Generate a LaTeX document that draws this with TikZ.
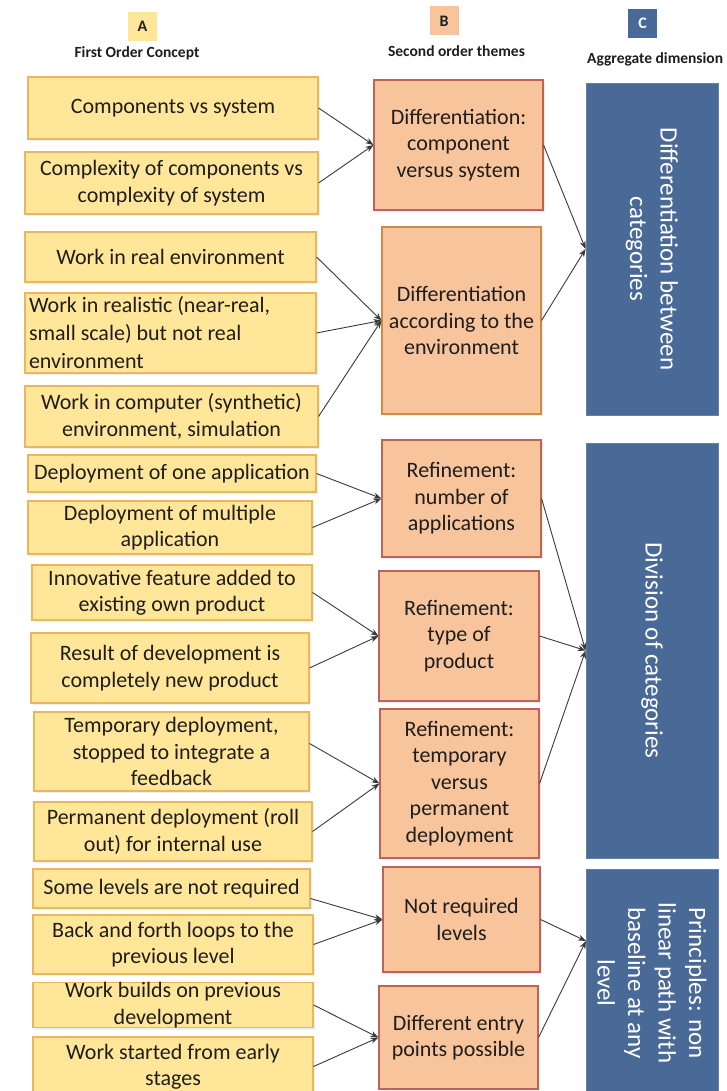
\documentclass[tikz,border=0pt]{standalone}
\usepackage{fontspec}
\setmainfont{Carlito}
\usetikzlibrary{arrows.meta,calc,shadows}
\definecolor{afill}{HTML}{FFE699}
\definecolor{aline}{HTML}{EAB65E}
\definecolor{bfill}{HTML}{F8C49C}
\definecolor{bline}{HTML}{C0615A}
\definecolor{bline2}{HTML}{CF8A45}
\definecolor{cfill}{HTML}{496A96}
\definecolor{arrowc}{HTML}{3A3A3A}
\definecolor{txt}{HTML}{1E1E1E}
\tikzset{
 box/.style={inner sep=0pt, line width=1.1pt, align=center, text=txt,
   font=\fontsize{22}{26.5}\selectfont,
   drop shadow={opacity=0.12,shadow xshift=1.5pt,shadow yshift=-2pt}},
 abox/.style={box, fill=afill, draw=aline},
 bbox/.style={box, fill=bfill, draw=bline},
 cbox/.style={inner sep=0pt, fill=cfill, draw=cfill!85!white, line width=0.8pt,
   rotate=-90, align=center, text=white, font=\fontsize{25}{30.5}\selectfont},
 conn/.style={draw=arrowc, line width=0.9pt, -{Stealth[length=8pt,width=6pt]}},
 hdr/.style={font=\bfseries\fontsize{15.5}{18}\selectfont, text=txt, inner sep=0pt},
 tag/.style={minimum size=29pt, inner sep=0pt, text=txt, font=\bfseries\fontsize{16}{18}\selectfont}
}
\begin{document}
\begin{tikzpicture}[x=1pt,y=-1pt]
\useasboundingbox (0,0) rectangle (726,1091);
\fill[white] (0,0) rectangle (726,1091);
\clip (0,0) rectangle (726,1091);

% headers
\node[tag, fill=afill] (ta) at (142.5,26.5) {A};
\node[tag, fill=bfill] (tb) at (444,21) {B};
\node[tag, fill=cfill, text=white] (tc) at (642.5,23.5) {C};
\node[hdr] (ha) at (137,53) {First Order Concept};
\node[hdr] (hb) at (456.5,51) {Second order themes};
\node[hdr, anchor=west] (hc) at (587,59) {Aggregate dimension};

% first order concepts
\node[abox, minimum width=290pt, minimum height=62pt] (a1) at (173,108) {Components vs system};
\node[abox, minimum width=293pt, minimum height=62pt] (a2) at (171.5,183) {Complexity of components vs\\complexity of system};
\node[abox, minimum width=291pt, minimum height=50pt] (a3) at (170.5,257) {Work in real environment};
\node[abox, minimum width=291pt, minimum height=80pt, text width=283pt, align=flush left,
  font=\fontsize{22}{28}\selectfont] (a4) at (170.5,333) {Work in realistic (near-real,\\small scale) but not real\\environment};
\node[abox, minimum width=293pt, minimum height=61pt] (a5) at (171.5,416.5) {Work in computer (synthetic)\\environment, simulation};
\node[abox, minimum width=288pt, minimum height=37pt] (a6) at (172,473.5) {Deployment of one application};
\node[abox, minimum width=284pt, minimum height=53pt] (a7) at (170,527.5) {Deployment of multiple\\application};
\node[abox, minimum width=280pt, minimum height=55pt] (a8) at (172,592.5) {Innovative feature added to\\existing own product};
\node[abox, minimum width=278pt, minimum height=70pt] (a9) at (170,668) {Result of development is\\completely new product};
\node[abox, minimum width=275pt, minimum height=79pt] (a10) at (171.5,751.5) {Temporary deployment,\\stopped to integrate a\\feedback};
\node[abox, minimum width=278pt, minimum height=59pt] (a11) at (173,831.5) {Permanent deployment (roll\\out) for internal use};
\node[abox, minimum width=277pt, minimum height=39pt] (a12) at (171.5,888.5) {Some levels are not required};
\node[abox, minimum width=280pt, minimum height=59pt] (a13) at (173,944.5) {Back and forth loops to the\\previous level};
\node[abox, minimum width=280pt, minimum height=44pt] (a14) at (173,1005) {Work builds on previous\\development};
\node[abox, minimum width=280pt, minimum height=59pt] (a15) at (173,1066.5) {Work started from early\\stages};

% second order themes
\node[bbox, minimum width=169pt, minimum height=130pt] (b1) at (458.5,145) {Differentiation:\\component\\versus system};
\node[bbox, draw=bline2, minimum width=159pt, minimum height=187pt] (b2) at (461.5,320.5) {Differentiation\\according to the\\environment};
\node[bbox, minimum width=159pt, minimum height=117pt] (b3) at (461.5,498.5) {Refinement:\\number of\\applications};
\node[bbox, minimum width=160pt, minimum height=130pt] (b4) at (459,636) {Refinement:\\type of\\product};
\node[bbox, minimum width=159pt, minimum height=149pt] (b5) at (459.5,783.5) {Refinement:\\temporary\\versus\\permanent\\deployment};
\node[bbox, minimum width=157pt, minimum height=105pt] (b6) at (461.5,919.5) {Not required\\levels};
\node[bbox, minimum width=159pt, minimum height=103pt] (b7) at (458.5,1037.5) {Different entry\\points possible};

% aggregate dimensions (rotated: width is vertical extent)
\node[cbox, minimum width=332pt, minimum height=132pt] (c1) at (652,249) {Differentiation between\\categories};
\node[cbox, minimum width=415pt, minimum height=132pt] (c2) at (652,650.5) {Division of categories};
\node[cbox, minimum width=228pt, minimum height=132pt] (c3) at (652,983) {Principles: non\\linear path with\\baseline at any\\level};
\coordinate (c3in) at (586,941);

% connectors A -> B
\draw[conn] (a1.east) -- (b1.west);
\draw[conn] (a2.east) -- (b1.west);
\draw[conn] (a3.east) -- (b2.west);
\draw[conn] (a4.east) -- (b2.west);
\draw[conn] (a5.east) -- (b2.west);
\draw[conn] (a6.east) -- (b3.west);
\draw[conn] (a7.east) -- (b3.west);
\draw[conn] (a8.east) -- (b4.west);
\draw[conn] (a9.east) -- (b4.west);
\draw[conn] ($(a10.east)+(0,-8)$) -- (b5.west);
\draw[conn] (a11.east) -- (b5.west);
\draw[conn] ($(a12.east)+(0,10)$) -- (b6.west);
\draw[conn] (a13.east) -- (b6.west);
\draw[conn] (a14.east) -- (b7.west);
\draw[conn] (a15.east) -- (b7.west);

% connectors B -> C
\draw[conn] (b1.east) -- (c1.south);
\draw[conn] (b2.east) -- (c1.south);
\draw[conn] (b3.east) -- (c2.south);
\draw[conn] (b4.east) -- (c2.south);
\draw[conn] (b5.east) -- (c2.south);
\draw[conn] (b6.east) -- (c3in);
\draw[conn] (b7.east) -- (c3in);
\end{tikzpicture}
\end{document}
